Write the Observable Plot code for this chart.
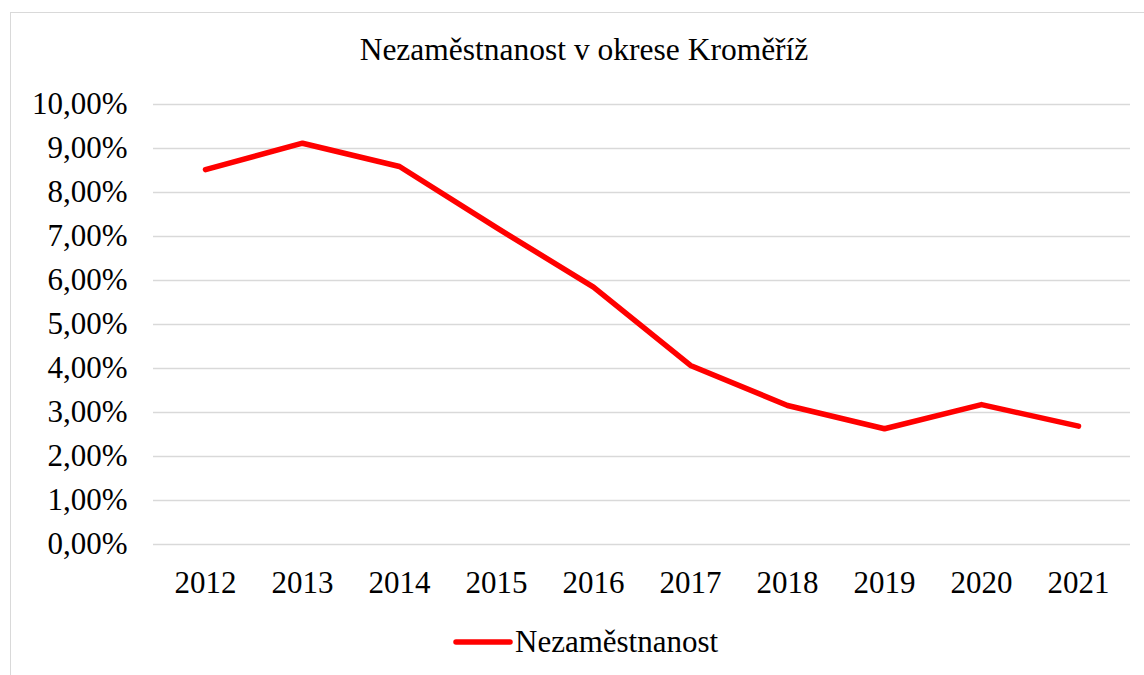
<!DOCTYPE html>
<html>
<head>
<meta charset="utf-8">
<script src="https://cdn.jsdelivr.net/npm/d3@7"></script>
<script src="https://cdn.jsdelivr.net/npm/@observablehq/plot@0.6"></script>
<style>
  html, body { margin: 0; padding: 0; background: #fff; }
  #wrap { position: relative; width: 1144px; height: 675px; overflow: hidden; font-family: "Liberation Serif", "Times New Roman", serif; }
  #frame { position: absolute; left: 10px; top: 12px; width: 1145px; height: 700px; border: 1.5px solid #d9d9d9; box-sizing: border-box; }
  #title { position: absolute; left: 0; width: 1168px; top: 31px; text-align: center; font-size: 31.5px; color: #000; line-height: 38px; }
  #chart { position: absolute; left: 0; top: 0; }
  #legend { position: absolute; left: 453px; top: 622px; display: flex; align-items: center; font-size: 31px; color: #000; line-height: 40px; }
</style>
</head>
<body>
<div id="wrap">
  <div id="frame"></div>
  <div id="chart"></div>
  <div id="title">Nezaměstnanost v okrese Kroměříž</div>
  <div id="legend"><svg width="60" height="12"><line x1="3" y1="6" x2="57" y2="6" stroke="#ff0000" stroke-width="5.5" stroke-linecap="round"/></svg><span style="margin-left:2px">Nezaměstnanost</span></div>
</div>
<script>
const years = ["2012","2013","2014","2015","2016","2017","2018","2019","2020","2021"];
const unemployment = [8.52, 9.12, 8.59, 7.20, 5.85, 4.07, 3.16, 2.63, 3.18, 2.69];
const yTicks = [0,1,2,3,4,5,6,7,8,9,10];
const seriesName = "Nezaměstnanost";

const data = years.map((y, i) => ({year: y, value: unemployment[i]}));
const fmt = d => d.toFixed(2).replace(".", ",") + "%";

const chart = Plot.plot({
  width: 1144,
  height: 610,
  marginLeft: 153,
  marginRight: 14,
  marginTop: 104,
  marginBottom: 66,
  style: { fontFamily: "Liberation Serif, Times New Roman, serif", fontSize: "31px", color: "#000", background: "transparent", overflow: "visible" },
  x: { type: "point", domain: years, padding: 0.5, label: null },
  y: { domain: [0, 10], label: null },
  marks: [
    Plot.ruleY(yTicks, { stroke: "#d9d9d9", strokeWidth: 1.5 }),
    Plot.line(data, { x: "year", y: "value", stroke: "#ff0000", strokeWidth: 5.5, strokeLinecap: "round", strokeLinejoin: "round" }),
    Plot.axisY(yTicks, { tickSize: 0, tickPadding: 26, tickFormat: fmt, fontSize: 31, fill: "#000" }),
    Plot.axisX(years, { tickSize: 0, tickPadding: 26, fontSize: 31, fill: "#000" })
  ]
});
document.getElementById("chart").appendChild(chart);
</script>
</body>
</html>
